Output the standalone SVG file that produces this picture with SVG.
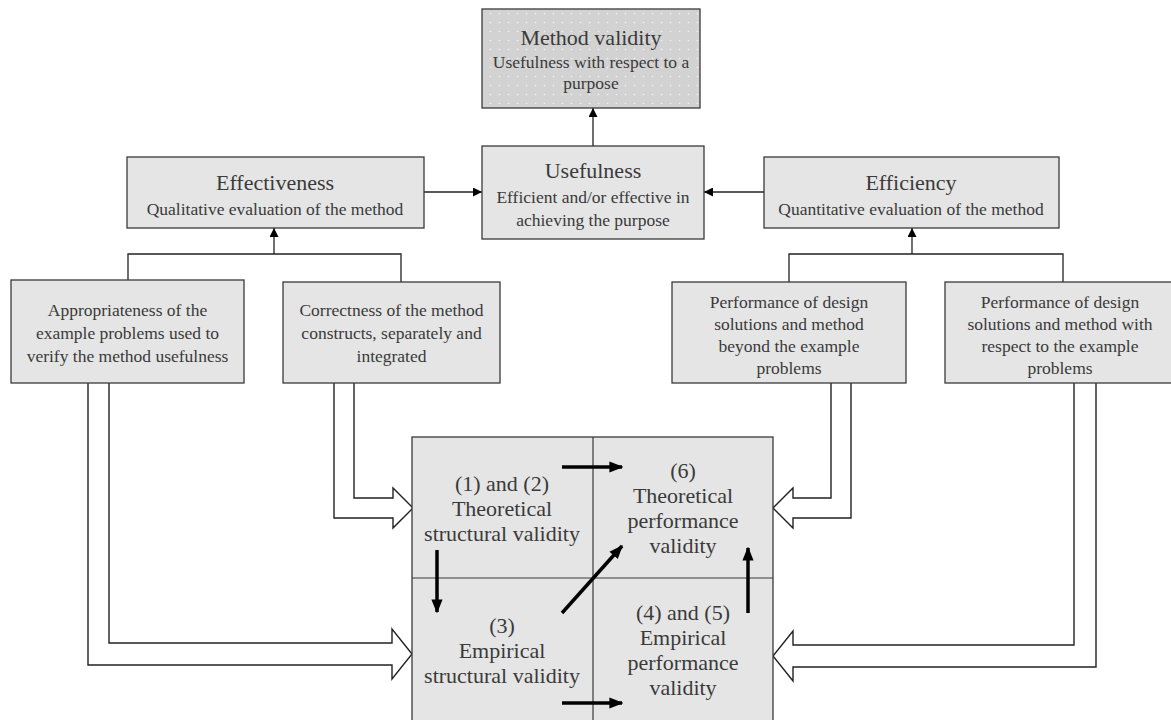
<svg xmlns="http://www.w3.org/2000/svg" width="1171" height="720" viewBox="0 0 1171 720">
  <defs>
    <style>
      .box { fill: #e5e5e5; stroke: #3a3a3a; stroke-width: 1.3; }
      .t { font-family: "Liberation Serif", "DejaVu Serif", serif; fill: #3a3a3a; text-anchor: middle; }
      .h { font-size: 22px; }
      .s { font-size: 17.5px; }
      .c { font-size: 22px; }
      .thin { fill: none; stroke: #222; stroke-width: 1.3; }
      .hollow { fill: #fff; stroke: #222; stroke-width: 1.4; stroke-linejoin: miter; }
      .thick { fill: none; stroke: #000; stroke-width: 3.5; }
    </style>
    <pattern id="dots" width="9" height="9" patternUnits="userSpaceOnUse">
      <rect width="9" height="9" fill="#d2d2d2"/>
      <circle cx="4.5" cy="4.5" r="0.8" fill="#f2f2f2"/>
    </pattern>
    <marker id="tip" viewBox="0 0 10 10" refX="10" refY="5" markerWidth="9" markerHeight="9" markerUnits="userSpaceOnUse" orient="auto">
      <path d="M0,0 L10,5 L0,10 Z" fill="#000"/>
    </marker>
    <marker id="bold" viewBox="0 0 10 10" refX="9" refY="5" markerWidth="4" markerHeight="4" markerUnits="strokeWidth" orient="auto">
      <path d="M0,1 L10,5 L0,9 Z" fill="#000"/>
    </marker>
  </defs>

  <!-- connectors -->
  <g id="connectors">
    <!-- thin arrows between the upper boxes -->
    <line class="thin" x1="593" y1="146" x2="593" y2="108" marker-end="url(#tip)"/>
    <line class="thin" x1="424" y1="192" x2="482" y2="192" marker-end="url(#tip)"/>
    <line class="thin" x1="764" y1="192" x2="704" y2="192" marker-end="url(#tip)"/>
    <!-- effectiveness branch -->
    <path class="thin" d="M128,280 V254 H401 V282"/>
    <line class="thin" x1="274" y1="254" x2="274" y2="228" marker-end="url(#tip)"/>
    <!-- efficiency branch -->
    <path class="thin" d="M789,282 V254 H1063 V282"/>
    <line class="thin" x1="912" y1="254" x2="912" y2="228" marker-end="url(#tip)"/>

    <!-- hollow arrows into the validity square -->
    <path class="hollow" d="M109,383 V643 H392 V629 L412,654 L392,679 V665 H88 V383"/>
    <path class="hollow" d="M354,383 V498 H393 V488 L413,508 L393,528 V518 H334 V383"/>
    <path class="hollow" d="M831,383 V498 H793 V488 L773,508 L793,528 V518 H851 V383"/>
    <path class="hollow" d="M1074,383 V645 H793 V631 L773,656 L793,681 V667 H1096 V383"/>
  </g>

  <!-- upper nodes -->
  <g id="method-validity">
    <rect x="482" y="9" width="218" height="99" fill="url(#dots)" stroke="#3a3a3a" stroke-width="1.3"/>
    <text class="t h" x="591" y="45">Method validity</text>
    <text class="t s" x="591" y="68">Usefulness with respect to a</text>
    <text class="t s" x="591" y="89">purpose</text>
  </g>
  <g id="usefulness">
    <rect class="box" x="482" y="146" width="222" height="93"/>
    <text class="t h" x="593" y="178">Usefulness</text>
    <text class="t s" x="593" y="203">Efficient and/or effective in</text>
    <text class="t s" x="593" y="226">achieving the purpose</text>
  </g>
  <g id="effectiveness">
    <rect class="box" x="127" y="157" width="297" height="71"/>
    <text class="t h" x="275" y="190">Effectiveness</text>
    <text class="t s" x="275" y="215">Qualitative evaluation of the method</text>
  </g>
  <g id="efficiency">
    <rect class="box" x="764" y="157" width="295" height="71"/>
    <text class="t h" x="911" y="190">Efficiency</text>
    <text class="t s" x="911" y="215">Quantitative evaluation of the method</text>
  </g>

  <!-- criteria nodes -->
  <g id="appropriateness">
    <rect class="box" x="11" y="280" width="233" height="103"/>
    <text class="t s" x="127.5" y="316">Appropriateness of the</text>
    <text class="t s" x="127.5" y="339">example problems used to</text>
    <text class="t s" x="127.5" y="362">verify the method usefulness</text>
  </g>
  <g id="correctness">
    <rect class="box" x="283" y="282" width="217" height="101"/>
    <text class="t s" x="391.5" y="316">Correctness of the method</text>
    <text class="t s" x="391.5" y="339">constructs, separately and</text>
    <text class="t s" x="391.5" y="362">integrated</text>
  </g>
  <g id="performance-beyond">
    <rect class="box" x="672" y="282" width="234" height="101"/>
    <text class="t s" x="789" y="308">Performance of design</text>
    <text class="t s" x="789" y="330">solutions and method</text>
    <text class="t s" x="789" y="352">beyond the example</text>
    <text class="t s" x="789" y="374">problems</text>
  </g>
  <g id="performance-examples">
    <rect class="box" x="945" y="282" width="228" height="101"/>
    <text class="t s" x="1060" y="308">Performance of design</text>
    <text class="t s" x="1060" y="330">solutions and method with</text>
    <text class="t s" x="1060" y="352">respect to the example</text>
    <text class="t s" x="1060" y="374">problems</text>
  </g>

  <!-- validity square -->
  <g id="validity-square">
    <rect class="box" x="412" y="437" width="361" height="290"/>
    <line x1="593" y1="437" x2="593" y2="720" stroke="#3a3a3a" stroke-width="1.2"/>
    <line x1="412" y1="578" x2="773" y2="578" stroke="#3a3a3a" stroke-width="1.2"/>
  </g>
  <g id="theoretical-structural">
    <text class="t c" x="502" y="491">(1) and (2)</text>
    <text class="t c" x="502" y="516">Theoretical</text>
    <text class="t c" x="502" y="541">structural validity</text>
  </g>
  <g id="theoretical-performance">
    <text class="t c" x="683" y="478">(6)</text>
    <text class="t c" x="683" y="503">Theoretical</text>
    <text class="t c" x="683" y="528">performance</text>
    <text class="t c" x="683" y="553">validity</text>
  </g>
  <g id="empirical-structural">
    <text class="t c" x="502" y="633">(3)</text>
    <text class="t c" x="502" y="658">Empirical</text>
    <text class="t c" x="502" y="683">structural validity</text>
  </g>
  <g id="empirical-performance">
    <text class="t c" x="683" y="620">(4) and (5)</text>
    <text class="t c" x="683" y="645">Empirical</text>
    <text class="t c" x="683" y="670">performance</text>
    <text class="t c" x="683" y="695">validity</text>
  </g>

  <!-- bold arrows between the validity types -->
  <g id="validity-links">
    <line class="thick" x1="562" y1="467" x2="622" y2="467" marker-end="url(#bold)"/>
    <line class="thick" x1="437" y1="550" x2="437" y2="612" marker-end="url(#bold)"/>
    <line class="thick" x1="562" y1="613" x2="622" y2="546" marker-end="url(#bold)"/>
    <line class="thick" x1="748" y1="613" x2="748" y2="548" marker-end="url(#bold)"/>
    <line class="thick" x1="562" y1="703" x2="622" y2="703" marker-end="url(#bold)"/>
  </g>
</svg>
